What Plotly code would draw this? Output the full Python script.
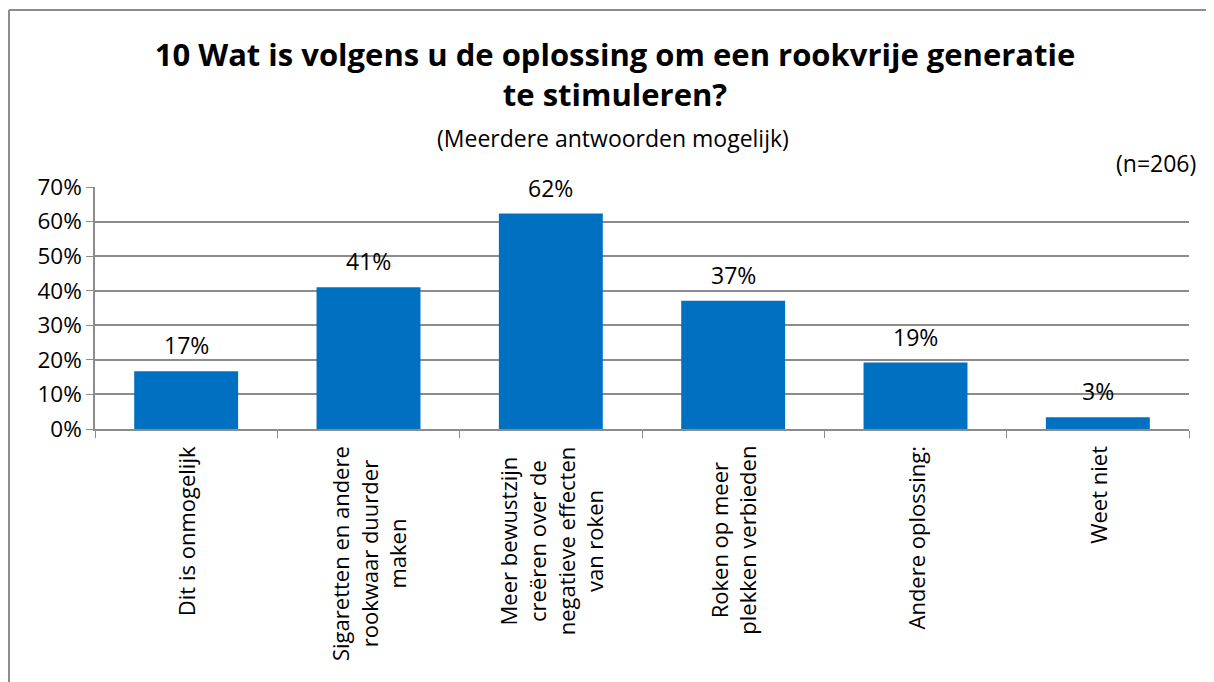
import plotly.graph_objects as go

categories = [
    "Dit is onmogelijk",
    "Sigaretten en andere<br>rookwaar duurder<br>maken",
    "Meer bewustzijn<br>creëren over de<br>negatieve effecten<br>van roken",
    "Roken op meer<br>plekken verbieden",
    "Andere oplossing:",
    "Weet niet",
]
values = [16.7, 41.0, 62.3, 37.1, 19.2, 3.4]
value_labels = ["17%", "41%", "62%", "37%", "19%", "3%"]
y_ticks = [0, 10, 20, 30, 40, 50, 60, 70]
y_tick_labels = ["0%", "10%", "20%", "30%", "40%", "50%", "60%", "70%"]

FONT = "Open Sans"
FS = 23
GRID = "#8c8c8c"

# page offset of 8px (body margin) accounted for in margins
ML, MR, MT, MB = 87, 33, 179, 261
PW, PH = 1214 - ML - MR, 682 - MT - MB

fig = go.Figure()
fig.add_trace(go.Bar(x=categories, y=values, marker=dict(color="#0070C0", line=dict(width=0)),
                     hoverinfo="skip"))

annotations = []
for c, v, t in zip(categories, values, value_labels):
    annotations.append(dict(x=c, y=v, xref="x", yref="y", text=t, showarrow=False,
                            yanchor="middle", yshift=26, font=dict(size=FS, color="black", family=FONT)))
    annotations.append(dict(x=c, y=0, xref="x", yref="y", text=c, showarrow=False,
                            textangle=-90, yanchor="top", xanchor="center", align="center",
                            yshift=-15, font=dict(size=22, color="black", family=FONT)))

annotations.append(dict(xref="paper", yref="paper", x=0.5 - 29 / PW, y=1 + 49 / PH, yanchor="middle",
                        text="(Meerdere antwoorden mogelijk)", showarrow=False,
                        font=dict(size=FS, color="black", family=FONT)))
annotations.append(dict(xref="paper", yref="paper", x=1 + 9 / PW, y=1 + 24 / PH, xanchor="right",
                        yanchor="middle", text="(n=206)", showarrow=False,
                        font=dict(size=FS, color="black", family=FONT)))

fig.update_layout(
    width=1214, height=682,
    margin=dict(l=ML, r=MR, t=MT, b=MB),
    paper_bgcolor="white", plot_bgcolor="white",
    showlegend=False,
    bargap=0.43,
    font=dict(family=FONT, size=FS, color="black"),
    title=dict(text="<b>10 Wat is volgens u de oplossing om een rookvrije generatie<br>te stimuleren?</b>",
               x=0.5, xanchor="center", y=0.915, yanchor="top",
               font=dict(family=FONT, size=31, color="black")),
    xaxis=dict(showticklabels=False, ticks="outside", tickson="boundaries", ticklen=7,
               tickcolor=GRID, showline=True, linecolor=GRID, linewidth=1.5, showgrid=False),
    yaxis=dict(range=[0, 70], tickvals=y_ticks, ticktext=y_tick_labels, ticks="outside", ticklen=7,
               tickcolor=GRID, showline=True, linecolor=GRID, linewidth=1.5,
               showgrid=True, gridcolor=GRID, gridwidth=1.5, zeroline=False,
               tickfont=dict(size=22.5, family=FONT, color="black")),
    annotations=annotations,
    shapes=[
        dict(type="line", xref="paper", yref="paper", x0=(1 - ML) / PW, x1=1.05,
             y0=1 + (MT - 2) / PH, y1=1 + (MT - 2) / PH, line=dict(color=GRID, width=2)),
        dict(type="line", xref="paper", yref="paper", x0=(1 - ML) / PW, x1=(1 - ML) / PW,
             y0=1 + (MT - 2) / PH, y1=-MB / PH - 0.1, line=dict(color=GRID, width=2)),
    ],
)

fig.write_html("out.html")
